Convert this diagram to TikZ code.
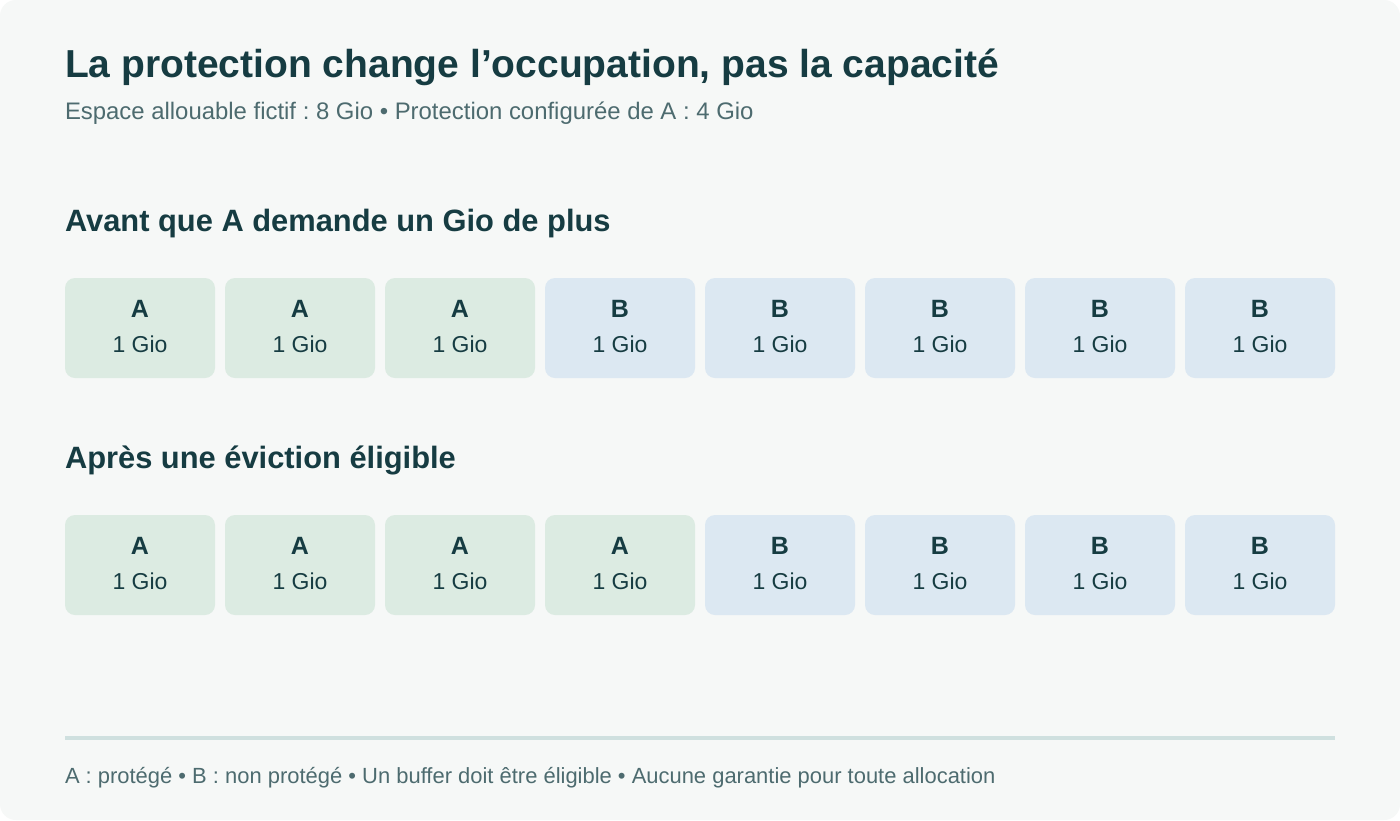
\documentclass[tikz,border=0pt]{standalone}
\usepackage{fontspec}
\setmainfont{Liberation Sans}
\frenchspacing
\definecolor{bgc}{HTML}{F6F8F7}
\definecolor{titlec}{HTML}{163C42}
\definecolor{subc}{HTML}{4D6B6F}
\definecolor{greenc}{HTML}{DCEBE2}
\definecolor{bluec}{HTML}{DCE8F2}
\definecolor{sepc}{HTML}{CFE0DF}
\begin{document}
\begin{tikzpicture}[x=1pt,y=-1pt,
  txt/.style={inner sep=0pt, outer sep=0pt, anchor=base west},
  title/.style={txt, text=titlec, font=\fontsize{39}{46}\selectfont\bfseries},
  subtitle/.style={txt, text=subc, font=\fontsize{23.9}{28}\selectfont},
  heading/.style={txt, text=titlec, font=\fontsize{30.85}{36}\selectfont\bfseries},
  footer/.style={txt, text=subc, font=\fontsize{21.95}{26}\selectfont},
  cell/.style={rounded corners=10pt, minimum width=150pt, minimum height=100pt, inner sep=0pt, draw=none},
  cellA/.style={cell, fill=greenc},
  cellB/.style={cell, fill=bluec},
  lbl/.style={inner sep=0pt, anchor=base, text=titlec, font=\fontsize{25}{30}\selectfont\bfseries},
  val/.style={inner sep=0pt, anchor=base, text=titlec, font=\fontsize{23}{28}\selectfont},
]
\useasboundingbox (0,0) rectangle (1400,820);
\fill[white] (0,0) rectangle (1400,820);
\fill[bgc, rounded corners=16pt] (0,0) rectangle (1400,820);

\node[title] (ttl) at (65,77.3) {La protection change l’occupation, pas la capacité};
\node[subtitle] (sub) at (65,119) {Espace allouable fictif : 8 Gio • Protection configurée de A : 4 Gio};

\node[heading] (h1) at (65,231) {Avant que A demande un Gio de plus};
\node[heading] (h2) at (65,468) {Après une éviction éligible};

\foreach \l [count=\i] in {A,A,A,B,B,B,B,B} {
  \pgfmathsetmacro\cx{140+(\i-1)*160}
  \node[cell\l] (top\i) at (\cx,328) {};
  \node[lbl] (topL\i) at (\cx,317.3) {\l};
  \node[val] (topV\i) at (\cx,352.7) {1 Gio};
}
\foreach \l [count=\i] in {A,A,A,A,B,B,B,B} {
  \pgfmathsetmacro\cx{140+(\i-1)*160}
  \node[cell\l] (bot\i) at (\cx,565) {};
  \node[lbl] (botL\i) at (\cx,554.3) {\l};
  \node[val] (botV\i) at (\cx,589.7) {1 Gio};
}

\coordinate (sepL) at (65,738);
\coordinate (sepR) at (1335,738);
\draw[sepc, line width=3.2pt] (sepL) -- (sepR);

\node[footer] (foot) at (65,783.5) {A : protégé • B : non protégé • Un buffer doit être éligible • Aucune garantie pour toute allocation};
\end{tikzpicture}
\end{document}
